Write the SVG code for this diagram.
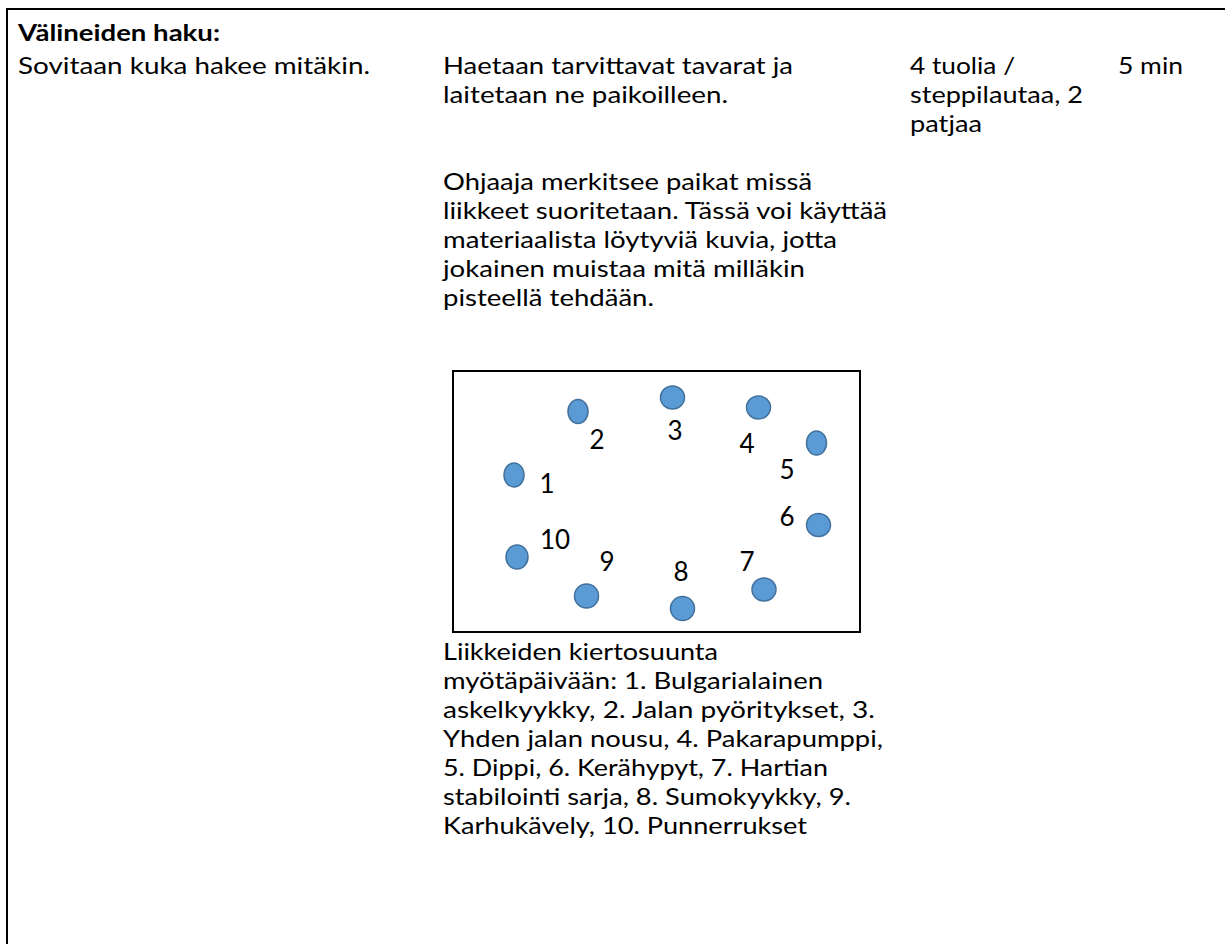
<svg xmlns="http://www.w3.org/2000/svg" width="1225" height="944" viewBox="0 0 1225 944">
<style>
.t{font-family:Lato,"Open Sans","Liberation Sans",sans-serif;font-size:23px;fill:#000}
.b{font-weight:700}
.n{font-family:Lato,"Open Sans","Liberation Sans",sans-serif;font-size:26px;fill:#000;text-anchor:middle}
.dot{fill:#5B9BD5;stroke:#41719C;stroke-width:1.5}
.frame{fill:none;stroke:#000;stroke-width:2}
</style>
<rect width="1225" height="944" fill="#fff"/>
<g id="table">
<line class="frame" x1="6" y1="9" x2="1225" y2="9"/>
<line class="frame" x1="7" y1="8" x2="7" y2="944"/>
</g>
<g id="header">
<text class="t b" x="18" y="41" textLength="202" lengthAdjust="spacingAndGlyphs">Välineiden haku:</text>
</g>
<g id="col1">
<text class="t" x="18" y="74" textLength="352" lengthAdjust="spacingAndGlyphs">Sovitaan kuka hakee mitäkin.</text>
</g>
<g id="col2">
<text class="t" x="443" y="74" textLength="350" lengthAdjust="spacingAndGlyphs">Haetaan tarvittavat tavarat ja</text>
<text class="t" x="443" y="103" textLength="285" lengthAdjust="spacingAndGlyphs">laitetaan ne paikoilleen.</text>
<text class="t" x="443" y="190" textLength="369" lengthAdjust="spacingAndGlyphs">Ohjaaja merkitsee paikat missä</text>
<text class="t" x="443" y="219" textLength="444" lengthAdjust="spacingAndGlyphs">liikkeet suoritetaan. Tässä voi käyttää</text>
<text class="t" x="443" y="248" textLength="394" lengthAdjust="spacingAndGlyphs">materiaalista löytyviä kuvia, jotta</text>
<text class="t" x="443" y="277" textLength="362" lengthAdjust="spacingAndGlyphs">jokainen muistaa mitä milläkin</text>
<text class="t" x="443" y="306" textLength="211" lengthAdjust="spacingAndGlyphs">pisteellä tehdään.</text>
<text class="t" x="443" y="660" textLength="275" lengthAdjust="spacingAndGlyphs">Liikkeiden kiertosuunta</text>
<text class="t" x="443" y="689" textLength="380" lengthAdjust="spacingAndGlyphs">myötäpäivään: 1. Bulgarialainen</text>
<text class="t" x="443" y="718" textLength="432" lengthAdjust="spacingAndGlyphs">askelkyykky, 2. Jalan pyöritykset, 3.</text>
<text class="t" x="443" y="747" textLength="440" lengthAdjust="spacingAndGlyphs">Yhden jalan nousu, 4. Pakarapumppi,</text>
<text class="t" x="443" y="776" textLength="385" lengthAdjust="spacingAndGlyphs">5. Dippi, 6. Kerähypyt, 7. Hartian</text>
<text class="t" x="443" y="805" textLength="408" lengthAdjust="spacingAndGlyphs">stabilointi sarja, 8. Sumokyykky, 9.</text>
<text class="t" x="443" y="834" textLength="364" lengthAdjust="spacingAndGlyphs">Karhukävely, 10. Punnerrukset</text>
</g>
<g id="col3">
<text class="t" x="910" y="74" textLength="105" lengthAdjust="spacingAndGlyphs">4 tuolia /</text>
<text class="t" x="910" y="103" textLength="173" lengthAdjust="spacingAndGlyphs">steppilautaa, 2</text>
<text class="t" x="910" y="132" textLength="72" lengthAdjust="spacingAndGlyphs">patjaa</text>
</g>
<g id="col4">
<text class="t" x="1118" y="74" textLength="65" lengthAdjust="spacingAndGlyphs">5 min</text>
</g>
<g id="station-map">
<rect class="frame" x="453" y="371" width="407" height="261"/>
<g id="station-1"><ellipse class="dot" cx="514" cy="475" rx="10" ry="12"/><text class="n" x="547" y="493">1</text></g>
<g id="station-2"><ellipse class="dot" cx="578" cy="411.5" rx="10" ry="12"/><text class="n" x="597" y="449">2</text></g>
<g id="station-3"><ellipse class="dot" cx="672.5" cy="397.5" rx="12" ry="11.5"/><text class="n" x="675" y="440">3</text></g>
<g id="station-4"><ellipse class="dot" cx="758.5" cy="407.5" rx="12" ry="11.5"/><text class="n" x="747" y="453">4</text></g>
<g id="station-5"><ellipse class="dot" cx="816.5" cy="443" rx="10" ry="12"/><text class="n" x="787" y="479">5</text></g>
<g id="station-6"><ellipse class="dot" cx="818.5" cy="525" rx="12" ry="11.5"/><text class="n" x="787" y="526">6</text></g>
<g id="station-7"><ellipse class="dot" cx="764" cy="589.5" rx="12" ry="11.5"/><text class="n" x="747" y="571">7</text></g>
<g id="station-8"><ellipse class="dot" cx="682.5" cy="608.5" rx="12" ry="12"/><text class="n" x="681" y="581">8</text></g>
<g id="station-9"><ellipse class="dot" cx="586.5" cy="596" rx="12" ry="12"/><text class="n" x="607" y="571">9</text></g>
<g id="station-10"><ellipse class="dot" cx="517" cy="557" rx="11" ry="12"/><text class="n" x="555" y="549">10</text></g>
</g>
<g id="connectors"/>
</svg>
